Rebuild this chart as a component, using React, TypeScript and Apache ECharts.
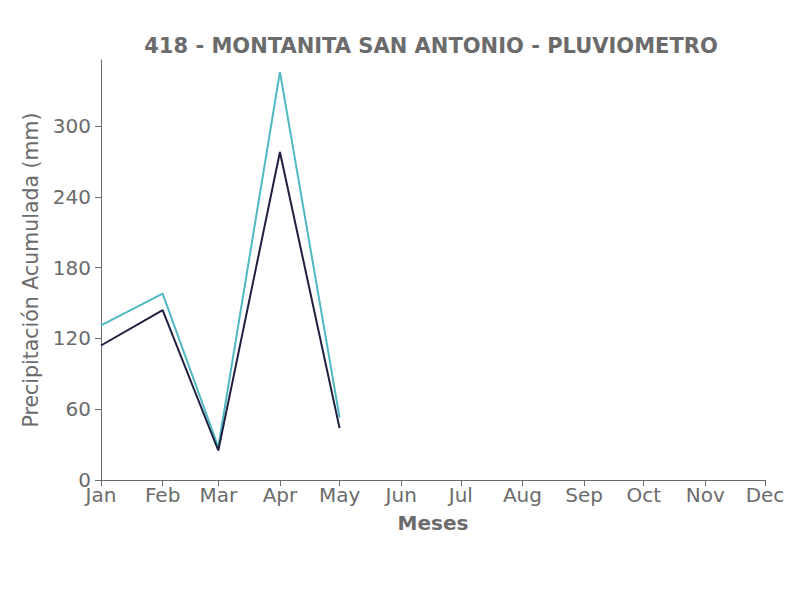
import React, { useEffect, useRef } from "react";
import * as echarts from "echarts";

const title = "418 - MONTANITA SAN ANTONIO - PLUVIOMETRO";
const monthLabels = ["Jan", "Feb", "Mar", "Apr", "May", "Jun", "Jul", "Aug", "Sep", "Oct", "Nov", "Dec"];
const year = 2023;
const dataMonths = [0, 1, 2, 3, 4];
const seriesTeal = [131, 158, 28, 346, 53];
const seriesDark = [114, 144, 25, 278, 44];
const yTicks = [0, 60, 120, 180, 240, 300];

const FONT = "DejaVu Sans";
const GRAY = "#6b6b6b";

function ts(m: number) {
  return new Date(year, m, 1).getTime();
}

export default function App() {
  const ref = useRef<HTMLDivElement>(null);
  useEffect(() => {
    if (!ref.current) return;
    const chart = echarts.init(ref.current, null, { renderer: "svg" });
    const monthTicks = monthLabels.map((_, i) => ts(i));
    chart.setOption({
      animation: false,
      backgroundColor: "#ffffff",
      title: {
        text: title,
        left: 426,
        textAlign: "center",
        top: 30,
        textStyle: { fontFamily: FONT, fontSize: 21, fontWeight: "bold", color: GRAY },
      },
      grid: { left: 101, right: 41, top: 60, bottom: 120, containLabel: false },
      xAxis: {
        type: "value",
        min: ts(0),
        max: ts(11),
        name: "Meses",
        nameLocation: "middle",
        nameGap: 33,
        nameTextStyle: { fontFamily: FONT, fontSize: 20, fontWeight: "bold", color: GRAY },
        axisLine: { show: true, lineStyle: { color: GRAY, width: 1 } },
        axisTick: { show: true, length: 6, customValues: monthTicks, lineStyle: { color: GRAY } },
        axisLabel: {
          customValues: monthTicks,
          margin: 5,
          fontFamily: FONT,
          fontSize: 20,
          color: GRAY,
          hideOverlap: false,
          formatter: (v: number) => monthLabels[new Date(v).getMonth()],
        },
        splitLine: { show: false },
      },
      yAxis: {
        type: "value",
        min: 0,
        max: 356,
        name: "Precipitación Acumulada (mm)",
        nameLocation: "middle",
        nameRotate: 90,
        nameGap: 55,
        nameTextStyle: { fontFamily: FONT, fontSize: 20.5, color: GRAY },
        axisLine: { show: true, lineStyle: { color: GRAY, width: 1 } },
        axisTick: { show: true, length: 6, customValues: yTicks, lineStyle: { color: GRAY } },
        axisLabel: {
          customValues: yTicks,
          margin: 10,
          fontFamily: FONT,
          fontSize: 20,
          color: GRAY,
        },
        splitLine: { show: false },
      },
      series: [
        {
          type: "line",
          data: dataMonths.map((m, i) => [ts(m), seriesTeal[i]]),
          symbol: "none",
          lineStyle: { color: "#4fb9c3", width: 2 },
          itemStyle: { color: "#4fb9c3" },
        },
        {
          type: "line",
          data: dataMonths.map((m, i) => [ts(m), seriesDark[i]]),
          symbol: "none",
          lineStyle: { color: "#1f1f40", width: 2 },
          itemStyle: { color: "#1f1f40" },
        },
      ],
    });
    return () => chart.dispose();
  }, []);
  return <div ref={ref} style={{ width: 806, height: 600, margin: -8 }} />;
}
